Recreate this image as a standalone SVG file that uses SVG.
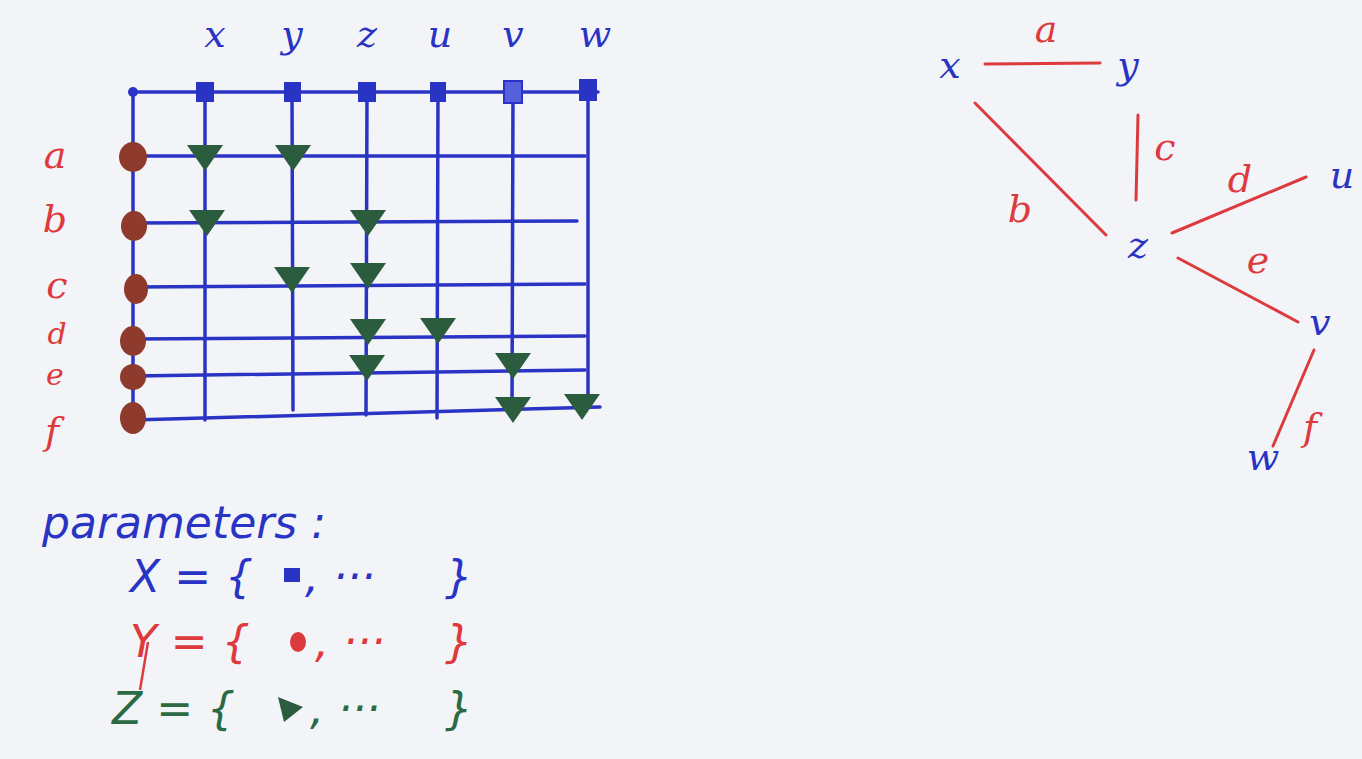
<svg xmlns="http://www.w3.org/2000/svg" width="1362" height="759" viewBox="0 0 1362 759">
<style>
.bg{fill:#f3f4f8}
.grid{stroke:#2a34c4;stroke-width:3.5;fill:none;stroke-linecap:round}
.sq{fill:#2a34c4;stroke:#2a34c4;stroke-width:2}
.dot{fill:#8e3a2c}
.tri{fill:#2c5c3e}
.edge{stroke:#dd3a3e;stroke-width:3;stroke-linecap:round;fill:none}
.tb{font-family:"DejaVu Serif",serif;font-style:italic;fill:#2a34c4}
.tr{font-family:"DejaVu Serif",serif;font-style:italic;fill:#dd3a3e}
.tg{font-family:"DejaVu Serif",serif;font-style:italic;fill:#2c6a44}
.lbl{font-size:38px}
.sm{font-size:30px}
.par{font-family:"DejaVu Sans",sans-serif;font-size:44px}
</style>
<defs>
<polygon id="tr" class="tri" points="-18,-11 18,-11 0,15"/>
</defs>
<rect class="bg" x="0" y="0" width="1362" height="759"/>

<g id="grid-lines">
<path class="grid" d="M133 92 L598 92 M133 92 L133 420"/>
<path class="grid" d="M133 156 L585 156 M133 223 L577 221 M133 287 L585 284 M133 339 L585 336 M133 376 L585 370 M133 420 L600 407"/>
<path class="grid" d="M205 92 L205 420 M292 92 L293 410 M367 92 L366 415 M438 92 L437 418 M513 92 L512 412 M588 92 L588 408"/>
<circle cx="133" cy="92" r="5" fill="#2a34c4"/>
</g>

<g id="col-x"><text class="tb lbl" x="215" y="47" text-anchor="middle">x</text><rect class="sq" x="197" y="83" width="16" height="18"/></g>
<g id="col-y"><text class="tb lbl" x="292" y="47" text-anchor="middle">y</text><rect class="sq" x="285" y="83" width="15" height="18"/></g>
<g id="col-z"><text class="tb lbl" x="367" y="47" text-anchor="middle">z</text><rect class="sq" x="359" y="83" width="16" height="18" fill="#4a55d8"/></g>
<g id="col-u"><text class="tb lbl" x="440" y="47" text-anchor="middle">u</text><rect class="sq" x="431" y="83" width="14" height="18"/></g>
<g id="col-v"><text class="tb lbl" x="513" y="47" text-anchor="middle">v</text><rect class="sq" x="504" y="81" width="18" height="22" style="fill:#5560dd"/></g>
<g id="col-w"><text class="tb lbl" x="595" y="47" text-anchor="middle">w</text><rect class="sq" x="580" y="80" width="16" height="20"/></g>

<g id="row-a"><text class="tr lbl" x="55" y="168" text-anchor="middle">a</text><ellipse class="dot" cx="133" cy="157" rx="14" ry="15"/></g>
<g id="row-b"><text class="tr lbl" x="55" y="232" text-anchor="middle">b</text><ellipse class="dot" cx="134" cy="226" rx="13" ry="15"/></g>
<g id="row-c"><text class="tr lbl" x="57" y="298" text-anchor="middle">c</text><ellipse class="dot" cx="136" cy="289" rx="12" ry="15"/></g>
<g id="row-d"><text class="tr sm" x="57" y="344" text-anchor="middle">d</text><ellipse class="dot" cx="133" cy="341" rx="13" ry="15"/></g>
<g id="row-e"><text class="tr sm" x="55" y="385" text-anchor="middle">e</text><ellipse class="dot" cx="133" cy="377" rx="13" ry="13"/></g>
<g id="row-f"><text class="tr lbl" x="52" y="444" text-anchor="middle">f</text><ellipse class="dot" cx="133" cy="418" rx="13" ry="16"/></g>

<g id="cells">
<use href="#tr" x="205" y="156"/>
<use href="#tr" x="293" y="156"/>
<use href="#tr" x="207" y="221"/>
<use href="#tr" x="368" y="221"/>
<use href="#tr" x="292" y="278"/>
<use href="#tr" x="368" y="274"/>
<use href="#tr" x="368" y="330"/>
<use href="#tr" x="438" y="329"/>
<use href="#tr" x="367" y="366"/>
<use href="#tr" x="513" y="364"/>
<use href="#tr" x="513" y="408"/>
<use href="#tr" x="582" y="405"/>
</g>

<g id="parameters">
<text class="tb par" x="42" y="538">parameters :</text>
<text class="tb par" x="130" y="592">X = {</text>
<rect x="284" y="568" width="16" height="14" fill="#2a34c4"/>
<text class="tb par" x="305" y="592">,  ···</text>
<text class="tb par" x="445" y="592">}</text>
<text class="tr par" x="130" y="657">Y = {</text>
<ellipse cx="298" cy="642" rx="8" ry="10" fill="#dd3a3e"/>
<text class="tr par" x="315" y="657">,  ···</text>
<text class="tr par" x="445" y="657">}</text>
<path d="M148 642 L140 690" stroke="#dd3a3e" stroke-width="2.5" fill="none"/>
<text class="tg par" x="112" y="724">Z  = {</text>
<polygon points="278,697 303,707 284,722" fill="#2c5c3e"/>
<text class="tg par" x="310" y="724">,  ···</text>
<text class="tg par" x="445" y="724">}</text>
</g>

<g id="connectors">
<path class="edge" d="M985 64 L1100 63"/>
<path class="edge" d="M975 103 L1106 235"/>
<path class="edge" d="M1138 115 L1136 200"/>
<path class="edge" d="M1172 233 L1306 177"/>
<path class="edge" d="M1178 258 L1298 322"/>
<path class="edge" d="M1314 350 L1273 446"/>
<text class="tr lbl" x="1046" y="42" text-anchor="middle">a</text>
<text class="tr lbl" x="1020" y="222" text-anchor="middle">b</text>
<text class="tr lbl" x="1165" y="160" text-anchor="middle">c</text>
<text class="tr lbl" x="1240" y="192" text-anchor="middle">d</text>
<text class="tr lbl" x="1258" y="273" text-anchor="middle">e</text>
<text class="tr lbl" x="1310" y="440" text-anchor="middle">f</text>
</g>

<g id="node-x"><text class="tb lbl" x="950" y="78" text-anchor="middle">x</text></g>
<g id="node-y"><text class="tb lbl" x="1128" y="78" text-anchor="middle">y</text></g>
<g id="node-z"><text class="tb lbl" x="1138" y="258" text-anchor="middle">z</text></g>
<g id="node-u"><text class="tb lbl" x="1342" y="188" text-anchor="middle">u</text></g>
<g id="node-v"><text class="tb lbl" x="1320" y="335" text-anchor="middle">v</text></g>
<g id="node-w"><text class="tb lbl" x="1263" y="470" text-anchor="middle">w</text></g>
</svg>
